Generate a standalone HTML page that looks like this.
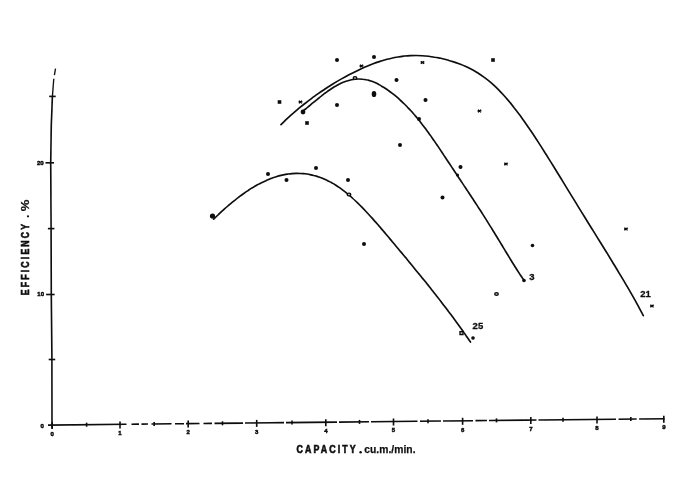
<!DOCTYPE html>
<html><head><meta charset="utf-8"><style>
html,body{margin:0;padding:0;background:#fff;}
body{width:700px;height:481px;overflow:hidden;font-family:"Liberation Sans",sans-serif;}
svg{display:block}
text{font-family:"Liberation Sans",sans-serif;font-weight:bold;fill:#111}
</style></head><body>
<svg width="700" height="481" viewBox="0 0 700 481">
<rect width="700" height="481" fill="#fff"/>
<g filter="url(#b)">
<g fill="none" stroke="#0a0a0a" stroke-width="1.65" stroke-linecap="round" stroke-linejoin="round">
<path d="M281.0,124.7 C282.0,123.7 285.1,120.7 287.1,118.7 C289.2,116.8 291.2,115.0 293.3,113.2 C295.3,111.4 297.4,109.6 299.4,107.9 C301.5,106.2 303.5,104.6 305.6,103.0 C307.6,101.4 309.7,99.8 311.7,98.3 C313.8,96.8 315.8,95.3 317.8,93.9 C319.9,92.5 321.9,91.1 324.0,89.7 C326.0,88.3 328.1,87.0 330.1,85.7 C332.2,84.4 334.2,83.2 336.3,81.9 C338.3,80.7 340.4,79.5 342.4,78.4 C344.5,77.2 346.5,76.1 348.5,75.0 C350.6,73.9 352.6,72.9 354.7,71.9 C356.7,70.9 358.8,69.9 360.8,68.9 C362.9,68.0 364.9,67.1 367.0,66.2 C369.0,65.4 371.1,64.6 373.1,63.8 C375.2,63.0 377.2,62.3 379.3,61.6 C381.3,60.9 383.3,60.3 385.4,59.7 C387.4,59.2 389.5,58.6 391.5,58.2 C393.6,57.7 395.6,57.3 397.7,57.0 C399.7,56.6 401.8,56.3 403.8,56.1 C405.9,55.9 407.9,55.7 410.0,55.6 C412.0,55.5 414.0,55.5 416.1,55.5 C418.1,55.5 420.2,55.6 422.2,55.7 C424.3,55.9 426.3,56.1 428.4,56.3 C430.4,56.5 432.5,56.8 434.5,57.2 C436.6,57.5 438.6,57.9 440.7,58.3 C442.7,58.8 444.8,59.3 446.8,59.8 C448.8,60.4 450.9,60.9 452.9,61.6 C455.0,62.2 457.0,62.9 459.1,63.7 C461.1,64.5 463.2,65.3 465.2,66.2 C467.3,67.1 469.3,68.1 471.4,69.2 C473.4,70.3 475.5,71.4 477.5,72.7 C479.5,74.0 481.6,75.4 483.6,76.9 C485.7,78.4 487.7,80.0 489.8,81.7 C491.8,83.4 493.9,85.3 495.9,87.2 C498.0,89.2 500.0,91.3 502.1,93.5 C504.1,95.7 506.2,98.0 508.2,100.4 C510.3,102.8 512.3,105.4 514.3,108.0 C516.4,110.6 518.4,113.3 520.5,116.1 C522.5,118.9 524.6,121.8 526.6,124.7 C528.7,127.7 530.7,130.7 532.8,133.8 C534.8,136.8 536.9,140.0 538.9,143.1 C541.0,146.3 543.0,149.5 545.0,152.8 C547.1,156.0 549.1,159.3 551.2,162.6 C553.2,165.9 555.3,169.2 557.3,172.5 C559.4,175.9 561.4,179.2 563.5,182.6 C565.5,185.9 567.6,189.3 569.6,192.6 C571.7,195.9 573.7,199.3 575.8,202.6 C577.8,206.0 579.8,209.3 581.9,212.6 C583.9,215.9 586.0,219.2 588.0,222.5 C590.1,225.8 592.1,229.1 594.2,232.4 C596.2,235.7 598.3,239.0 600.3,242.3 C602.4,245.6 604.4,248.9 606.5,252.2 C608.5,255.5 610.5,258.8 612.6,262.2 C614.6,265.5 616.7,268.9 618.7,272.3 C620.8,275.7 622.8,279.1 624.9,282.6 C626.9,286.1 629.0,289.6 631.0,293.2 C633.1,296.8 635.1,300.4 637.2,304.2 C639.2,307.9 642.3,313.8 643.3,315.7"/>
<path d="M302.5,111.3 C303.1,110.8 305.0,109.4 306.3,108.3 C307.5,107.3 308.8,106.3 310.0,105.3 C311.3,104.2 312.5,103.2 313.8,102.2 C315.0,101.1 316.3,100.1 317.5,99.1 C318.8,98.1 320.0,97.1 321.3,96.1 C322.5,95.1 323.8,94.2 325.0,93.2 C326.3,92.3 327.5,91.4 328.8,90.5 C330.0,89.7 331.3,88.8 332.5,88.0 C333.8,87.2 335.0,86.5 336.3,85.8 C337.5,85.1 338.8,84.4 340.0,83.8 C341.3,83.2 342.5,82.6 343.8,82.1 C345.0,81.6 346.3,81.2 347.6,80.8 C348.8,80.4 350.1,80.1 351.3,79.8 C352.6,79.5 353.8,79.3 355.1,79.2 C356.3,79.1 357.6,79.0 358.8,79.0 C360.1,79.0 361.3,79.0 362.6,79.2 C363.8,79.3 365.1,79.5 366.3,79.8 C367.6,80.0 368.8,80.4 370.1,80.8 C371.3,81.2 372.6,81.6 373.8,82.1 C375.1,82.6 376.3,83.2 377.6,83.8 C378.8,84.5 380.1,85.2 381.3,85.9 C382.6,86.6 383.8,87.4 385.1,88.2 C386.3,89.0 387.6,89.9 388.8,90.8 C390.1,91.7 391.4,92.7 392.6,93.6 C393.9,94.6 395.1,95.6 396.4,96.7 C397.6,97.7 398.9,98.8 400.1,100.0 C401.4,101.1 402.6,102.3 403.9,103.5 C405.1,104.7 406.4,106.0 407.6,107.3 C408.9,108.6 410.1,109.9 411.4,111.3 C412.6,112.7 413.9,114.1 415.1,115.6 C416.4,117.0 417.6,118.6 418.9,120.1 C420.1,121.7 421.4,123.3 422.6,124.9 C423.9,126.5 425.1,128.2 426.4,129.9 C427.6,131.6 428.9,133.3 430.1,135.1 C431.4,136.8 432.6,138.6 433.9,140.4 C435.1,142.3 436.4,144.1 437.7,145.9 C438.9,147.8 440.2,149.7 441.4,151.5 C442.7,153.4 443.9,155.3 445.2,157.2 C446.4,159.1 447.7,161.0 448.9,162.8 C450.2,164.7 451.4,166.6 452.7,168.5 C453.9,170.4 455.2,172.3 456.4,174.1 C457.7,176.0 458.9,177.9 460.2,179.8 C461.4,181.7 462.7,183.5 463.9,185.4 C465.2,187.3 466.4,189.2 467.7,191.1 C468.9,192.9 470.2,194.8 471.4,196.7 C472.7,198.6 473.9,200.5 475.2,202.5 C476.4,204.4 477.7,206.3 478.9,208.3 C480.2,210.2 481.5,212.2 482.7,214.1 C484.0,216.1 485.2,218.1 486.5,220.1 C487.7,222.1 489.0,224.1 490.2,226.1 C491.5,228.1 492.7,230.1 494.0,232.2 C495.2,234.2 496.5,236.3 497.7,238.3 C499.0,240.4 500.2,242.4 501.5,244.5 C502.7,246.6 504.0,248.6 505.2,250.7 C506.5,252.8 507.7,254.8 509.0,256.9 C510.2,258.9 511.5,261.0 512.7,263.0 C514.0,265.0 515.2,267.0 516.5,269.0 C517.7,271.0 519.0,272.9 520.2,274.8 C521.5,276.7 523.4,279.5 524.0,280.4"/>
<path d="M213.6,219.2 C214.3,218.5 216.5,216.3 218.0,215.0 C219.4,213.6 220.9,212.2 222.3,210.9 C223.8,209.6 225.2,208.3 226.7,207.0 C228.1,205.8 229.6,204.5 231.0,203.3 C232.5,202.1 233.9,200.9 235.4,199.8 C236.8,198.6 238.3,197.5 239.7,196.4 C241.2,195.3 242.6,194.3 244.1,193.3 C245.5,192.2 247.0,191.3 248.4,190.3 C249.9,189.3 251.3,188.4 252.8,187.6 C254.2,186.7 255.7,185.8 257.1,185.0 C258.6,184.2 260.0,183.4 261.5,182.7 C262.9,182.0 264.4,181.3 265.9,180.7 C267.3,180.0 268.8,179.4 270.2,178.8 C271.7,178.3 273.1,177.7 274.6,177.3 C276.0,176.8 277.5,176.3 278.9,175.9 C280.4,175.6 281.8,175.2 283.3,174.9 C284.7,174.6 286.2,174.3 287.6,174.1 C289.1,173.9 290.5,173.7 292.0,173.6 C293.4,173.5 294.9,173.4 296.3,173.4 C297.8,173.4 299.2,173.4 300.7,173.5 C302.1,173.5 303.6,173.7 305.0,173.8 C306.5,174.0 307.9,174.2 309.4,174.5 C310.8,174.8 312.3,175.1 313.7,175.5 C315.2,175.8 316.7,176.3 318.1,176.7 C319.6,177.2 321.0,177.7 322.5,178.3 C323.9,178.9 325.4,179.6 326.8,180.2 C328.3,180.9 329.7,181.7 331.2,182.5 C332.6,183.3 334.1,184.1 335.5,185.0 C337.0,186.0 338.4,186.9 339.9,187.9 C341.3,189.0 342.8,190.0 344.2,191.2 C345.7,192.3 347.1,193.5 348.6,194.7 C350.0,195.9 351.5,197.2 352.9,198.5 C354.4,199.8 355.8,201.2 357.3,202.6 C358.7,204.0 360.2,205.5 361.6,206.9 C363.1,208.4 364.5,209.9 366.0,211.5 C367.4,213.0 368.9,214.6 370.4,216.2 C371.8,217.8 373.3,219.5 374.7,221.1 C376.2,222.7 377.6,224.4 379.1,226.1 C380.5,227.8 382.0,229.4 383.4,231.1 C384.9,232.8 386.3,234.6 387.8,236.3 C389.2,238.0 390.7,239.7 392.1,241.4 C393.6,243.2 395.0,244.9 396.5,246.7 C397.9,248.4 399.4,250.1 400.8,251.9 C402.3,253.6 403.7,255.4 405.2,257.1 C406.6,258.9 408.1,260.6 409.5,262.4 C411.0,264.2 412.4,265.9 413.9,267.7 C415.3,269.5 416.8,271.3 418.2,273.0 C419.7,274.8 421.2,276.6 422.6,278.4 C424.1,280.2 425.5,282.0 427.0,283.8 C428.4,285.6 429.9,287.4 431.3,289.2 C432.8,291.1 434.2,292.9 435.7,294.7 C437.1,296.6 438.6,298.4 440.0,300.3 C441.5,302.2 442.9,304.1 444.4,306.0 C445.8,307.8 447.3,309.8 448.7,311.7 C450.2,313.6 451.6,315.6 453.1,317.5 C454.5,319.5 456.0,321.5 457.4,323.5 C458.9,325.5 460.3,327.5 461.8,329.5 C463.2,331.6 464.7,333.7 466.1,335.8 C467.6,337.9 469.8,341.1 470.5,342.1"/>
</g>
<g fill="#0a0a0a" stroke="none">
<ellipse cx="374" cy="94" rx="2.3" ry="3.1"/>
<circle cx="212.5" cy="216.0" r="2.6"/>
<circle cx="268.0" cy="174.0" r="2.0"/>
<circle cx="286.5" cy="180.0" r="2.0"/>
<circle cx="316.0" cy="168.0" r="2.0"/>
<circle cx="348.0" cy="180.0" r="2.0"/>
<circle cx="364.0" cy="244.0" r="2.0"/>
<circle cx="303.0" cy="112.0" r="2.4"/>
<circle cx="337.0" cy="60.0" r="2.0"/>
<circle cx="337.0" cy="105.0" r="2.0"/>
<circle cx="374.0" cy="57.0" r="2.0"/>
<circle cx="396.5" cy="80.0" r="2.0"/>
<circle cx="425.5" cy="100.0" r="2.0"/>
<circle cx="419.0" cy="119.0" r="2.0"/>
<circle cx="400.0" cy="145.0" r="2.0"/>
<circle cx="442.5" cy="197.5" r="2.0"/>
<circle cx="460.5" cy="167.0" r="2.0"/>
<circle cx="457.5" cy="175.0" r="1.6"/>
<circle cx="532.5" cy="245.5" r="1.8"/>
<circle cx="524.0" cy="280.5" r="1.8"/>
<circle cx="473.0" cy="338.0" r="1.8"/>
<rect x="277.7" y="100.2" width="3.6" height="3.6"/>
<rect x="305.2" y="121.2" width="3.6" height="3.6"/>
<rect x="491.2" y="58.2" width="3.6" height="3.6"/>
</g>
<g fill="#bbb" stroke="#0a0a0a" stroke-width="1.3">
<rect x="460" y="331.6" width="3" height="3"/>
<ellipse cx="355.0" cy="78.0" rx="1.8" ry="1.4"/>
<ellipse cx="349.0" cy="194.5" rx="1.8" ry="1.4"/>
<ellipse cx="496.5" cy="294.0" rx="1.8" ry="1.4"/>
</g>
<g fill="none" stroke="#0a0a0a" stroke-width="1.5">
<path d="M298.8,100.8 l3.4,2.4 M298.8,103.2 l3.4,-2.4"/>
<path d="M359.8,64.8 l3.4,2.4 M359.8,67.2 l3.4,-2.4"/>
<path d="M420.8,61.3 l3.4,2.4 M420.8,63.7 l3.4,-2.4"/>
<path d="M477.8,109.8 l3.4,2.4 M477.8,112.2 l3.4,-2.4"/>
<path d="M504.3,162.8 l3.4,2.4 M504.3,165.2 l3.4,-2.4"/>
<path d="M624.3,227.8 l3.4,2.4 M624.3,230.2 l3.4,-2.4"/>
<path d="M650.3,304.8 l3.4,2.4 M650.3,307.2 l3.4,-2.4"/>
</g>
<!-- axes -->
<g fill="none" stroke="#0a0a0a" stroke-width="1.6" stroke-linecap="butt">
<path d="M52,428.6 L51.9,359 L51.3,294 L51.1,228 L50.7,163 L51.3,125 L52.4,96.4"/>
<path d="M52.4,96.4 L53.8,78.7" stroke-width="1.3"/>
<path d="M54.4,75.2 L55.5,68.6" stroke-width="1.3"/>
<path id="xa" d="M48,425.1 L664.5,418.7" stroke-dasharray="78.5 5.0 7.5 2.5 6.5 3.5 20.0 3.5 9.0 2.0 13.5 4.0 8.5 2.5 28.5 2.0 39.0 2.0 51.0 2.0 30.0 2.0 46.5 2.5 21.0 2.0 30.0 2.5 11.5 2.0 47.5 2.0 77.5 2.6 18.0 2.6 25.3"/>
<path d="M52.2,422.1 V429.1"/>
<path d="M86.6,422.7 V426.7"/>
<path d="M120.0,421.4 V428.4"/>
<path d="M154.2,422.0 V426.0"/>
<path d="M188.2,420.6 V427.6"/>
<path d="M222.5,421.3 V425.3"/>
<path d="M256.7,419.9 V426.9"/>
<path d="M292.0,420.6 V424.6"/>
<path d="M325.8,419.2 V426.2"/>
<path d="M359.5,419.9 V423.9"/>
<path d="M393.5,418.5 V425.5"/>
<path d="M428.0,419.2 V423.2"/>
<path d="M462.6,417.8 V424.8"/>
<path d="M496.5,418.4 V422.4"/>
<path d="M530.8,417.1 V424.1"/>
<path d="M563.0,417.8 V421.8"/>
<path d="M597.0,416.4 V423.4"/>
<path d="M630.8,417.0 V421.0"/>
<path d="M663.8,415.7 V422.7"/>
<path d="M48.7,359.5 H55.2"/>
<path d="M46.1,294.5 H54.6"/>
<path d="M47.9,228.6 H54.4"/>
<path d="M45.5,162.8 H54.0"/>
<path d="M49.2,96.4 H55.7"/>
</g>
<g font-size="6px" stroke="#111" stroke-width="0.5">
<text x="52.2" y="435.8" text-anchor="middle">0</text>
<text x="120.0" y="435.1" text-anchor="middle">1</text>
<text x="188.2" y="434.3" text-anchor="middle">2</text>
<text x="256.7" y="433.6" text-anchor="middle">3</text>
<text x="325.8" y="432.9" text-anchor="middle">4</text>
<text x="393.5" y="432.2" text-anchor="middle">5</text>
<text x="462.6" y="431.5" text-anchor="middle">6</text>
<text x="530.8" y="430.8" text-anchor="middle">7</text>
<text x="597.0" y="430.1" text-anchor="middle">8</text>
<text x="663.8" y="429.4" text-anchor="middle">9</text>
<text x="43.8" y="428.2" text-anchor="end">0</text>
<text x="44" y="296.2" text-anchor="end">10</text>
<text x="43.6" y="165.2" text-anchor="end">20</text>
</g>
<g font-size="9.5px" stroke="#111" stroke-width="0.3">
<text x="472.6" y="328.7">25</text>
<text x="529.2" y="279.6">3</text>
<text x="640.3" y="296.6">21</text>
</g>
<g stroke="#111" stroke-width="0.25">
<text transform="translate(296.4,453) scale(0.86,1)" stroke-width="0.6" font-size="10.3px" letter-spacing="2.45">CAPACITY</text>
<circle cx="360.6" cy="452.3" r="1.2" fill="#111" stroke="none"/>
<text x="364.2" y="453" font-size="10.3px" letter-spacing="0.05">cu.m./min.</text>
<text transform="translate(28.6,295.3) rotate(-90) scale(0.85,1)" stroke-width="0.6" font-size="10.2px" letter-spacing="2.6">EFFICIENCY</text>
<circle cx="28" cy="216.3" r="1.1" fill="#111" stroke="none"/>
<text transform="translate(28.8,211.2) rotate(-90)" font-size="10.6px" textLength="11.6" lengthAdjust="spacingAndGlyphs">%</text>
</g>
</g>
<defs><filter id="b" x="0" y="0" width="700" height="481" filterUnits="userSpaceOnUse"><feGaussianBlur stdDeviation="0.35"/></filter></defs>
</svg>
</body></html>
